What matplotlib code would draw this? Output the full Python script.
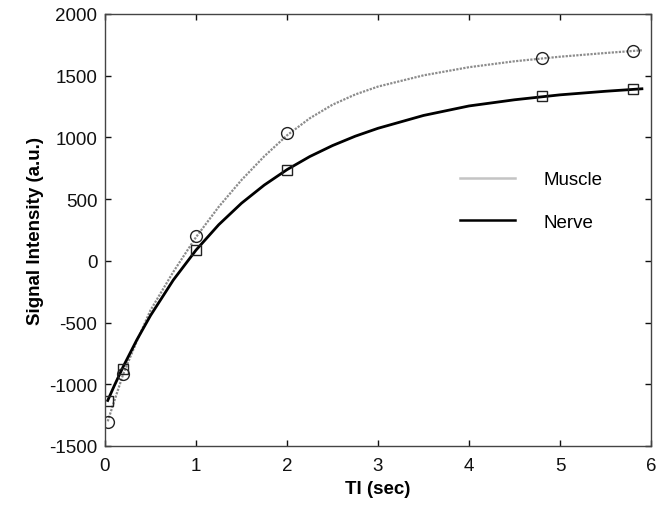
import matplotlib
matplotlib.use("Agg")
import matplotlib.pyplot as plt
from matplotlib.lines import Line2D

plt.rcParams['font.family'] = ['Liberation Sans', 'DejaVu Sans']
plt.rcParams['axes.unicode_minus'] = False

# Measured data points
ti_points = [0.03, 0.2, 1.0, 2.0, 4.8, 5.8]
muscle_points = [-1304, -918, 203, 1036, 1646, 1704]
nerve_points = [-1132, -877, 88, 737, 1336, 1396]

# Fitted curves
ti_curve = [0.03, 0.1, 0.2, 0.35, 0.5, 0.75, 1.0, 1.25, 1.5, 1.75, 2.0, 2.25,
            2.5, 2.75, 3.0, 3.5, 4.0, 4.5, 5.0, 5.5, 5.9]
muscle_curve = [-1300, -1140, -918, -650, -400, -90, 192, 438, 655, 847, 1017, 1155,
                1265, 1348, 1412, 1503, 1569, 1617, 1654, 1684, 1706]
nerve_curve = [-1131, -1015, -857, -640, -443, -156, 87, 293, 467, 614, 739, 845,
               934, 1010, 1074, 1178, 1255, 1305, 1345, 1374, 1394]

xticks = [0, 1, 2, 3, 4, 5, 6]
yticks = [-1500, -1000, -500, 0, 500, 1000, 1500, 2000]

fig = plt.figure(figsize=(6.67, 5.06), dpi=100)
ax = fig.add_axes([105/667, 1-447/506, (651-105)/667, (447-15)/506])

ax.plot(ti_curve, muscle_curve, color='#8c8c8c', lw=1.6, linestyle=(0, (1, 0.6)))
ax.plot(ti_curve, nerve_curve, color='black', lw=2.0)
ax.plot(ti_points, muscle_points, linestyle='none', marker='o', ms=8.5,
        mfc='none', mec='#222222', mew=1.0)
ax.plot(ti_points, nerve_points, linestyle='none', marker='s', ms=7,
        mfc='none', mec='#222222', mew=1.0)

ax.set_xlim(0, 6)
ax.set_ylim(-1500, 2000)
ax.set_xticks(xticks)
ax.set_yticks(yticks)
ax.tick_params(direction='in', length=4, width=1, top=True, right=True,
               labelsize=13.5, colors='#111111')
ax.tick_params(axis='x', pad=8)
ax.tick_params(axis='y', pad=5.5)
for s in ax.spines.values():
    s.set_color('#444444')
    s.set_linewidth(1.0)

ax.set_xlabel('TI (sec)', fontsize=13.5, fontweight='bold', labelpad=4)
ax.set_ylabel('Signal Intensity (a.u.)', fontsize=13.5, fontweight='bold', labelpad=4)

handles = [Line2D([], [], color='#c4c4c4', lw=1.8),
           Line2D([], [], color='black', lw=1.8)]
leg = ax.legend(handles, ['Muscle', 'Nerve'], loc='center left',
                bbox_to_anchor=((443-105)/546, (447-202)/432), frameon=False,
                fontsize=13.5, handlelength=2.95, handletextpad=1.5, labelspacing=1.35)

fig.savefig('out.png', dpi=100)
